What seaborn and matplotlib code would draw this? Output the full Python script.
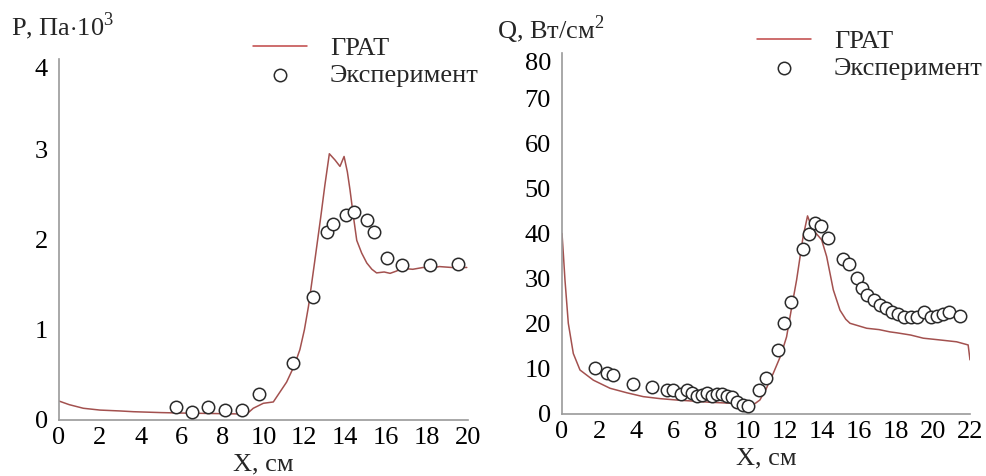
import numpy as np
import pandas as pd
import matplotlib
matplotlib.use("Agg")
import matplotlib.pyplot as plt
from matplotlib.ticker import MultipleLocator
import seaborn as sns

# давление: расчёт ГРАТ
p_line_x = [0, 0.5, 1.19, 2, 3, 3.63, 5, 6, 6.9, 8, 9.18, 9.5, 9.99, 10.48, 11.13, 11.5,
            11.78, 12.0, 12.2, 12.5, 12.8, 13.0, 13.22, 13.5, 13.74, 13.94, 14.1, 14.23,
            14.4, 14.56, 14.8, 15.05, 15.3, 15.53, 15.9, 16.19, 16.5, 16.77, 17.3, 17.8,
            18.14, 18.6, 19.2, 19.94]
p_line_y = [0.21, 0.17, 0.13, 0.11, 0.10, 0.092, 0.082, 0.077, 0.074, 0.07, 0.066, 0.13,
            0.185, 0.2, 0.42, 0.6, 0.78, 1.0, 1.26, 1.75, 2.25, 2.6, 2.95, 2.88, 2.81,
            2.92, 2.75, 2.55, 2.25, 1.99, 1.85, 1.74, 1.67, 1.63, 1.64, 1.625, 1.65,
            1.68, 1.67, 1.69, 1.68, 1.7, 1.69, 1.69]
# давление: эксперимент
p_exp_x = [5.71, 6.52, 7.30, 8.13, 8.95, 9.76, 11.43, 12.40, 13.09, 13.41, 14.03, 14.43,
           15.05, 15.40, 16.02, 16.77, 18.14, 19.53]
p_exp_y = [0.147, 0.085, 0.147, 0.11, 0.11, 0.285, 0.635, 1.36, 2.08, 2.17, 2.275, 2.30,
           2.216, 2.08, 1.79, 1.72, 1.72, 1.73]

# тепловой поток: расчёт ГРАТ
q_line_x = [0, 0.08, 0.16, 0.34, 0.61, 0.97, 1.69, 2.59, 3.5, 4.38, 5.3, 6.18, 7.1, 7.98,
            9.24, 9.7, 10.0, 10.3, 10.67, 11.0, 11.39, 11.8, 12.11, 12.4, 12.65, 13.0,
            13.24, 13.5, 14.0, 14.27, 14.63, 14.99, 15.3, 15.53, 16.43, 17.1, 17.68,
            18.04, 18.8, 19.48, 20.4, 21.28, 21.9, 22.0]
q_line_y = [40, 35, 29.7, 20.1, 13.4, 9.75, 7.5, 5.7, 4.7, 3.85, 3.4, 3.1, 2.85, 2.6,
            2.36, 2.0, 1.0, 2.0, 3.1, 5.5, 9, 13, 17.1, 24, 29.7, 39.3, 43.9, 41, 38.6,
            34.9, 27.5, 23, 21, 20.1, 19.0, 18.7, 18.2, 18.0, 17.5, 16.8, 16.4, 16.0,
            15.3, 12]
# тепловой поток: эксперимент
q_exp_x = [1.80, 2.41, 2.77, 3.81, 4.83, 5.64, 5.97, 6.40, 6.72, 6.99, 7.26, 7.53, 7.80,
           8.07, 8.34, 8.61, 8.88, 9.15, 9.42, 9.77, 10.04, 10.64, 11.0, 11.66, 11.97,
           12.33, 12.97, 13.33, 13.64, 13.96, 14.32, 15.17, 15.47, 15.89, 16.16, 16.46,
           16.84, 17.14, 17.47, 17.77, 18.13, 18.44, 18.80, 19.12, 19.51, 19.88, 20.2,
           20.52, 20.86, 21.46]
q_exp_y = [10.27, 9.01, 8.64, 6.65, 6.06, 5.32, 5.32, 4.43, 5.32, 4.58, 3.99, 4.1, 4.58,
           3.99, 4.43, 4.43, 3.99, 3.69, 2.73, 1.99, 1.77, 5.32, 7.9, 14.2, 20.1, 24.8,
           36.5, 40.0, 42.3, 41.7, 38.9, 34.3, 33.2, 30.1, 27.9, 26.4, 25.3, 24.2, 23.4,
           22.7, 22.1, 21.6, 21.4, 21.6, 22.5, 21.6, 21.7, 22.2, 22.5, 21.8]

line_color = "#a3514f"
fs = 19

sns.set_style("white")
plt.rcParams["font.family"] = ["Liberation Serif", "DejaVu Serif"]
plt.rcParams["mathtext.fontset"] = "custom"
plt.rcParams["mathtext.rm"] = "Liberation Serif"

fig = plt.figure(figsize=(9.87, 4.76), dpi=100)
ax1 = fig.add_axes([59 / 987, 1 - 420 / 476, 409 / 987, 361 / 476])
ax2 = fig.add_axes([562 / 987, 1 - 414 / 476, 408 / 987, 361 / 476])


def draw(ax, lx, ly, ex, ey, xmax, ymax, ymaj, ymin_step, xmin_step):
    sns.lineplot(x=lx, y=ly, ax=ax, color=line_color, lw=1.1, label="ГРАТ",
                 sort=False, legend=False)
    sns.scatterplot(x=ex, y=ey, ax=ax, marker="o", s=80, facecolor="white",
                    edgecolor="#2a2a2a", linewidth=1.1, label="Эксперимент",
                    legend=False, zorder=3, clip_on=False)
    ax.set_xlim(0, xmax)
    ax.set_ylim(0, ymax)
    ax.xaxis.set_major_locator(MultipleLocator(2))
    ax.xaxis.set_minor_locator(MultipleLocator(xmin_step))
    ax.set_yticks(np.arange(0, ymax + ymaj / 2, ymaj))
    ax.yaxis.set_minor_locator(MultipleLocator(ymin_step))
    ax.tick_params(which="both", direction="in", color="#8a8a8a", labelsize=fs,
                   labelcolor="black")
    ax.tick_params(axis="x", which="both", pad=5)
    ax.tick_params(axis="y", which="both", pad=8)
    ax.tick_params(which="major", length=6, width=1)
    ax.tick_params(which="minor", length=3, width=0.8)
    for s in ["top", "right"]:
        ax.spines[s].set_visible(False)
    for s in ["left", "bottom"]:
        ax.spines[s].set_color("#9a9a9a")
        ax.spines[s].set_linewidth(1.2)
    ax.set_xlabel("X, см", fontsize=fs, labelpad=3)
    ax.set_ylabel("")
    # верхняя подпись оси Y в оригинале стоит под засечкой
    ax.yaxis.get_major_ticks()[-1].label1.set_verticalalignment("top")


draw(ax1, p_line_x, p_line_y, p_exp_x, p_exp_y, 20, 4, 1, 0.2, 0.4)
draw(ax2, q_line_x, q_line_y, q_exp_x, q_exp_y, 22, 80, 10, 2, 0.4)

fig.text(11 / 987, 1 - 35 / 476, r"P, Па$\cdot$10$^3$", fontsize=fs, ha="left", va="baseline")
fig.text(497 / 987, 1 - 39 / 476, r"Q, Вт$/$см$^2$", fontsize=fs, ha="left", va="baseline")

for ax, bx, by in [(ax1, 253, 37), (ax2, 757, 30)]:
    h, l = ax.get_legend_handles_labels()
    leg = ax.legend(h, l, loc="upper left", bbox_to_anchor=(bx / 987, 1 - by / 476),
                    bbox_transform=fig.transFigure, frameon=False, fontsize=fs,
                    handlelength=2.05, handletextpad=0.87, labelspacing=0.1,
                    borderpad=0, borderaxespad=0)
    leg.get_lines()[0].set_color("#c04545")

fig.savefig("out.png", dpi=100)
